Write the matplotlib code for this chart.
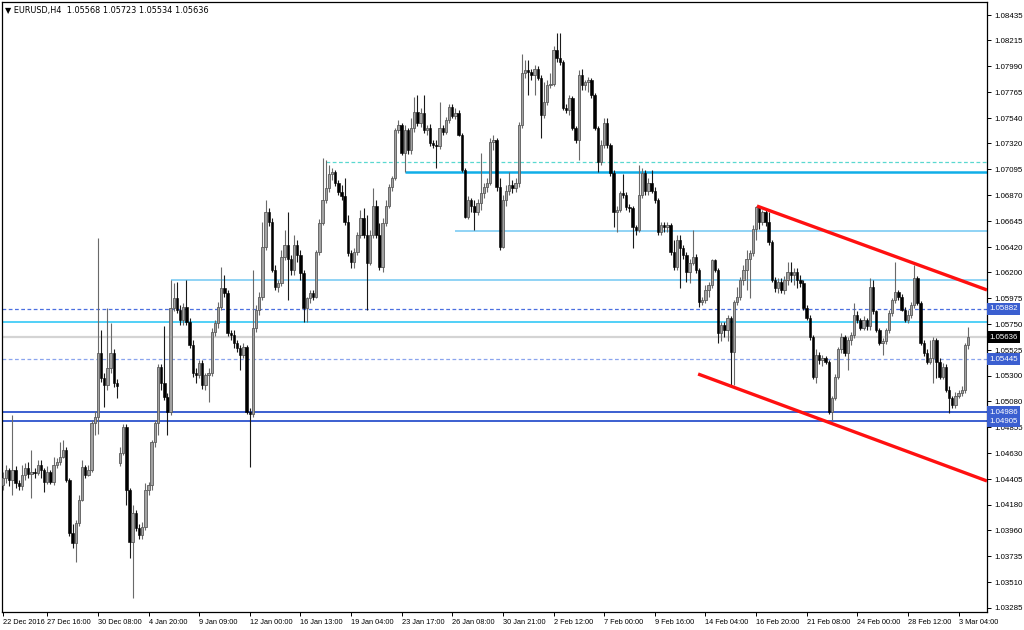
import matplotlib
matplotlib.use('Agg')
import matplotlib.pyplot as plt

plt.rcParams['font.family'] = ['Liberation Sans', 'DejaVu Sans']

# EURUSD H4 candles, prices in pips (x 1e-4)
opens = [10435, 10441, 10448, 10440, 10448, 10437, 10434, 10444, 10450, 10445,
         10447, 10446, 10453, 10448, 10438, 10447, 10438, 10453, 10455, 10460,
         10466, 10440, 10394, 10385, 10402, 10422, 10451, 10444, 10448, 10489,
         10494, 10550, 10528, 10522, 10537, 10550, 10524, 10454, 10463, 10486,
         10431, 10386, 10411, 10398, 10392, 10399, 10431, 10435, 10473, 10489,
         10538, 10524, 10512, 10499, 10589, 10598, 10587, 10579, 10590, 10577,
         10557, 10533, 10531, 10541, 10522, 10531, 10533, 10568, 10576, 10590,
         10606, 10602, 10567, 10566, 10559, 10554, 10548, 10555, 10499, 10497,
         10572, 10587, 10599, 10642, 10672, 10664, 10622, 10607, 10611, 10633,
         10644, 10632, 10622, 10644, 10635, 10619, 10589, 10598, 10602, 10599,
         10638, 10663, 10683, 10693, 10705, 10707, 10698, 10690, 10686, 10664,
         10637, 10629, 10638, 10652, 10667, 10652, 10628, 10652, 10678, 10652,
         10625, 10663, 10678, 10694, 10702, 10744, 10748, 10724, 10744, 10726,
         10745, 10759, 10750, 10758, 10744, 10745, 10732, 10731, 10730, 10745,
         10742, 10752, 10764, 10756, 10758, 10739, 10709, 10668, 10683, 10678,
         10672, 10680, 10689, 10694, 10698, 10733, 10735, 10694, 10642, 10683,
         10691, 10696, 10693, 10698, 10748, 10793, 10796, 10794, 10791, 10797,
         10789, 10757, 10768, 10783, 10784, 10813, 10806, 10803, 10763, 10761,
         10771, 10745, 10735, 10791, 10783, 10785, 10787, 10774, 10745, 10716,
         10731, 10750, 10731, 10706, 10672, 10674, 10689, 10687, 10677, 10676,
         10659, 10657, 10687, 10706, 10691, 10698, 10691, 10683, 10655, 10661,
         10659, 10661, 10638, 10625, 10648, 10641, 10635, 10620, 10628, 10633,
         10622, 10594, 10596, 10605, 10609, 10631, 10622, 10567, 10574, 10570,
         10580, 10551, 10594, 10599, 10613, 10622, 10632, 10637, 10658, 10677,
         10664, 10672, 10664, 10646, 10613, 10606, 10612, 10605, 10613, 10620,
         10618, 10620, 10613, 10611, 10589, 10580, 10564, 10529, 10548, 10544,
         10546, 10542, 10499, 10511, 10529, 10553, 10564, 10550, 10561, 10566,
         10583, 10579, 10572, 10579, 10573, 10607, 10586, 10570, 10559, 10560,
         10570, 10585, 10596, 10603, 10599, 10587, 10579, 10583, 10592, 10615,
         10593, 10559, 10550, 10542, 10546, 10561, 10542, 10529, 10538, 10518,
         10511, 10505, 10513, 10515, 10518, 10556.8]
highs = [10447, 10453, 10450, 10496, 10452, 10440, 10453, 10454, 10455, 10466,
         10450, 10457, 10457, 10450, 10452, 10448, 10460, 10459, 10473, 10474,
         10468, 10441, 10401, 10405, 10427, 10457, 10453, 10453, 10492, 10500,
         10650, 10570, 10533, 10589, 10576, 10553, 10527, 10468, 10488, 10488,
         10433, 10418, 10414, 10401, 10403, 10437, 10438, 10474, 10492, 10540,
         10540, 10573, 10515, 10613, 10611, 10612, 10592, 10593, 10613, 10580,
         10561, 10537, 10544, 10544, 10533, 10537, 10572, 10579, 10594, 10625,
         10618, 10605, 10570, 10570, 10561, 10557, 10559, 10557, 10502, 10622,
         10592, 10603, 10664, 10683, 10676, 10667, 10626, 10613, 10639, 10657,
         10672, 10635, 10652, 10648, 10639, 10622, 10599, 10605, 10605, 10639,
         10666, 10719, 10718, 10713, 10711, 10709, 10700, 10696, 10702, 10670,
         10639, 10641, 10655, 10674, 10676, 10670, 10657, 10693, 10683, 10663,
         10667, 10683, 10697, 10704, 10745, 10752, 10750, 10748, 10745, 10754,
         10772, 10774, 10763, 10774, 10748, 10749, 10735, 10735, 10768, 10748,
         10755, 10766, 10766, 10763, 10761, 10741, 10711, 10686, 10685, 10683,
         10684, 10724, 10698, 10702, 10737, 10739, 10737, 10702, 10687, 10696,
         10707, 10700, 10702, 10751, 10810, 10804, 10804, 10797, 10800, 10799,
         10791, 10785, 10787, 10793, 10817, 10828, 10828, 10804, 10766, 10774,
         10773, 10747, 10796, 10797, 10787, 10790, 10789, 10776, 10747, 10735,
         10754, 10754, 10732, 10709, 10678, 10691, 10705, 10690, 10679, 10678,
         10661, 10713, 10711, 10709, 10702, 10709, 10694, 10685, 10664, 10664,
         10664, 10663, 10648, 10652, 10652, 10644, 10638, 10632, 10657, 10636,
         10624, 10599, 10609, 10612, 10632, 10632, 10624, 10577, 10577, 10583,
         10582, 10596, 10607, 10616, 10626, 10639, 10639, 10661, 10678, 10678,
         10674, 10674, 10672, 10648, 10616, 10615, 10615, 10617, 10629, 10629,
         10624, 10624, 10618, 10613, 10592, 10583, 10566, 10553, 10551, 10548,
         10547, 10544, 10513, 10532, 10555, 10567, 10566, 10564, 10568, 10593,
         10586, 10580, 10582, 10580, 10615, 10613, 10587, 10572, 10563, 10572,
         10587, 10598, 10629, 10605, 10601, 10590, 10587, 10594, 10626, 10617,
         10595, 10561, 10553, 10561, 10564, 10563, 10546, 10541, 10540, 10521,
         10513, 10516, 10518, 10521, 10559, 10572.3]
lows = [10431, 10437, 10434, 10427, 10433, 10431, 10431, 10440, 10441, 10424,
        10441, 10444, 10441, 10429, 10436, 10436, 10435, 10450, 10453, 10459,
        10438, 10391, 10381, 10368, 10400, 10421, 10441, 10443, 10447, 10479,
        10480, 10525, 10503, 10518, 10533, 10520, 10511, 10452, 10461, 10418,
        10372, 10337, 10395, 10388, 10388, 10396, 10427, 10431, 10468, 10479,
        10518, 10509, 10479, 10496, 10586, 10585, 10574, 10574, 10574, 10554,
        10529, 10524, 10528, 10519, 10518, 10507, 10530, 10565, 10572, 10587,
        10599, 10565, 10561, 10554, 10551, 10535, 10546, 10497, 10451, 10494,
        10568, 10583, 10596, 10639, 10660, 10620, 10605, 10603, 10608, 10631,
        10596, 10618, 10618, 10629, 10613, 10577, 10577, 10593, 10596, 10598,
        10635, 10661, 10680, 10690, 10700, 10695, 10687, 10683, 10661, 10634,
        10624, 10624, 10635, 10650, 10650, 10587, 10626, 10650, 10650, 10622,
        10620, 10660, 10676, 10691, 10700, 10741, 10722, 10707, 10723, 10723,
        10742, 10747, 10746, 10741, 10739, 10730, 10728, 10711, 10727, 10739,
        10740, 10750, 10754, 10753, 10738, 10707, 10667, 10666, 10672, 10657,
        10670, 10674, 10685, 10690, 10696, 10726, 10691, 10639, 10641, 10678,
        10687, 10689, 10690, 10694, 10745, 10789, 10774, 10787, 10774, 10787,
        10737, 10754, 10765, 10780, 10782, 10803, 10800, 10761, 10758, 10757,
        10744, 10732, 10718, 10778, 10778, 10777, 10771, 10744, 10707, 10713,
        10728, 10728, 10704, 10659, 10655, 10672, 10685, 10674, 10672, 10641,
        10652, 10655, 10685, 10687, 10687, 10689, 10680, 10652, 10652, 10655,
        10655, 10635, 10622, 10622, 10606, 10632, 10612, 10611, 10626, 10619,
        10590, 10592, 10593, 10599, 10606, 10620, 10559, 10560, 10564, 10560,
        10520, 10522, 10592, 10596, 10609, 10605, 10598, 10634, 10648, 10658,
        10661, 10660, 10644, 10612, 10603, 10602, 10602, 10601, 10609, 10612,
        10609, 10606, 10607, 10587, 10579, 10561, 10527, 10524, 10540, 10539,
        10540, 10497, 10492, 10509, 10527, 10550, 10547, 10535, 10557, 10563,
        10576, 10570, 10570, 10570, 10570, 10584, 10568, 10557, 10548, 10558,
        10567, 10582, 10593, 10596, 10586, 10577, 10576, 10580, 10589, 10592,
        10557, 10547, 10540, 10540, 10524, 10528, 10527, 10527, 10516, 10498,
        10502, 10502, 10511, 10513, 10515, 10553.4]
closes = [10441, 10448, 10440, 10448, 10437, 10434, 10444, 10450, 10445, 10447,
          10446, 10453, 10448, 10438, 10447, 10438, 10453, 10455, 10460, 10466,
          10440, 10394, 10385, 10402, 10422, 10451, 10444, 10448, 10489, 10494,
          10550, 10528, 10522, 10537, 10550, 10524, 10521, 10463, 10486, 10431,
          10386, 10411, 10398, 10392, 10399, 10431, 10435, 10473, 10489, 10538,
          10524, 10512, 10499, 10589, 10598, 10587, 10579, 10590, 10577, 10557,
          10533, 10531, 10541, 10522, 10531, 10533, 10568, 10576, 10590, 10606,
          10602, 10567, 10566, 10559, 10554, 10548, 10555, 10499, 10497, 10572,
          10587, 10599, 10642, 10672, 10664, 10622, 10607, 10611, 10633, 10644,
          10632, 10622, 10644, 10635, 10619, 10589, 10598, 10602, 10599, 10638,
          10663, 10683, 10693, 10705, 10707, 10698, 10690, 10686, 10664, 10637,
          10629, 10638, 10652, 10667, 10652, 10628, 10652, 10678, 10652, 10625,
          10663, 10678, 10694, 10702, 10744, 10748, 10724, 10744, 10726, 10745,
          10759, 10750, 10758, 10744, 10745, 10732, 10731, 10730, 10745, 10742,
          10752, 10764, 10756, 10758, 10739, 10709, 10668, 10683, 10678, 10672,
          10680, 10689, 10694, 10698, 10733, 10735, 10694, 10642, 10683, 10691,
          10696, 10693, 10698, 10748, 10793, 10796, 10794, 10791, 10797, 10789,
          10757, 10768, 10783, 10784, 10813, 10806, 10803, 10763, 10761, 10771,
          10745, 10735, 10791, 10783, 10785, 10787, 10774, 10745, 10716, 10731,
          10750, 10731, 10706, 10672, 10674, 10689, 10687, 10677, 10676, 10659,
          10657, 10687, 10706, 10691, 10698, 10691, 10683, 10655, 10661, 10659,
          10661, 10638, 10625, 10648, 10641, 10635, 10620, 10628, 10633, 10622,
          10594, 10596, 10605, 10609, 10631, 10622, 10567, 10574, 10570, 10580,
          10551, 10594, 10599, 10613, 10622, 10632, 10637, 10658, 10677, 10664,
          10672, 10664, 10646, 10613, 10606, 10612, 10605, 10613, 10620, 10618,
          10620, 10613, 10611, 10589, 10580, 10564, 10529, 10548, 10544, 10546,
          10542, 10499, 10511, 10529, 10553, 10564, 10550, 10561, 10566, 10583,
          10579, 10572, 10579, 10573, 10607, 10586, 10570, 10559, 10560, 10570,
          10585, 10596, 10603, 10599, 10587, 10579, 10583, 10592, 10615, 10593,
          10559, 10550, 10542, 10546, 10561, 10542, 10529, 10538, 10518, 10511,
          10505, 10513, 10515, 10518, 10557, 10563.6]

# x axis labels (bar index -> text)
xtick_bars = [0, 14, 30, 46, 62, 78, 94, 110, 126, 142, 158, 174, 190, 206,
              222, 238, 254, 270, 286, 302]
xtick_labels = ["22 Dec 2016", "27 Dec 16:00", "30 Dec 08:00", "4 Jan 20:00",
                "9 Jan 09:00", "12 Jan 00:00", "16 Jan 13:00", "19 Jan 04:00",
                "23 Jan 17:00", "26 Jan 08:00", "30 Jan 21:00", "2 Feb 12:00",
                "7 Feb 00:00", "9 Feb 16:00", "14 Feb 04:00", "16 Feb 20:00",
                "21 Feb 08:00", "24 Feb 00:00", "28 Feb 12:00", "3 Mar 04:00"]
yticks = [1.08435, 1.08215, 1.07990, 1.07765, 1.07540, 1.07320, 1.07095,
          1.06870, 1.06645, 1.06420, 1.06200, 1.05975, 1.05750, 1.05525,
          1.05300, 1.05080, 1.04855, 1.04630, 1.04405, 1.04180, 1.03960,
          1.03735, 1.03510, 1.03285]

# horizontal levels: (price, start bar)
level_blue_dash = [1.05882, 1.05445]
level_blue_solid = [1.04986, 1.04905]
level_cyan_full = 1.05770
level_light = [(1.06134, 53), (1.06559, 143)]
level_cyan_thick = (1.07071, 127)
level_cyan_dash = (1.07158, 102)
# red channel lines: (bar, price) pairs
upper_trend = [(238.3, 1.06776), (311.0, 1.06047)]
lower_trend = [(219.7, 1.05317), (311.0, 1.04388)]

W, H = 1024, 630
fig = plt.figure(figsize=(W / 100, H / 100), dpi=100)
ax = fig.add_axes([2 / W, (H - 612) / H, 985 / W, 610 / H])
xmax = 311.0
ax.set_xlim(-0.3, xmax)
ax.set_ylim(1.03250, 1.08548)

# levels
last = closes[-1] / 10000
ax.axhline(last, color='#d4d4d4', lw=1.6, zorder=1)
for p in level_blue_dash:
    ax.axhline(p, color='#4a6fe0' if p > 1.0555 else '#8aa4ee', lw=0.9,
               dashes=(3, 2), zorder=1)
for p in level_blue_solid:
    ax.axhline(p, color='#3b5fd0', lw=1.4, zorder=1)
ax.axhline(level_cyan_full, color='#22c4f5', lw=1.1, zorder=1)
for p, b in level_light:
    ax.hlines(p, b, xmax, color='#8fd3f5', lw=1.4, zorder=1)
ax.hlines(level_cyan_thick[0], level_cyan_thick[1], xmax, color='#10aee8',
          lw=1.8, zorder=1)
ax.hlines(level_cyan_dash[0], level_cyan_dash[1], xmax, color='#5ad8d0',
          lw=0.9, linestyles=(0, (3, 2)), zorder=1)

# candles
for i in range(len(closes)):
    o = opens[i] / 10000
    h = highs[i] / 10000
    l = lows[i] / 10000
    c = closes[i] / 10000
    up = c >= o
    ax.vlines(i, l, h, color='#6a6a6a' if up else '#1a1a1a', lw=0.8, zorder=3)
    body = max(abs(c - o), 0.00003)
    if up:
        ax.bar(i, body, bottom=min(o, c), width=0.75, color='#a2a2a2',
               edgecolor='#5a5a5a', linewidth=0.6, zorder=4)
    else:
        ax.bar(i, body, bottom=min(o, c), width=0.75, color='black',
               edgecolor='black', linewidth=0.4, zorder=4)

# red channel
for ln in (upper_trend, lower_trend):
    ax.plot([ln[0][0], ln[1][0]], [ln[0][1], ln[1][1]], color='#ff1010',
            lw=2.4, solid_capstyle='butt', zorder=5, clip_on=True)

# axes styling
for s in ax.spines.values():
    s.set_color('black')
    s.set_linewidth(0.9)
ax.yaxis.tick_right()
ax.set_yticks(yticks)
ax.set_yticklabels(['%.5f' % v for v in yticks])
ax.tick_params(axis='y', direction='out', length=3, width=0.7, pad=2,
               labelsize=5.7, colors='black')
ax.set_xticks(xtick_bars)
ax.set_xticklabels(xtick_labels)
ax.tick_params(axis='x', direction='out', length=3, width=0.7, pad=2,
               labelsize=5.3)
for lb in ax.get_xticklabels():
    lb.set_ha('left')

# right side price boxes
ytr = ax.get_yaxis_transform()
boxes = [(1.05882, '#3b5fd0'), (1.05445, '#3b5fd0'), (1.04986, '#3b5fd0'),
         (1.04905, '#3b5fd0'), (last, 'black')]
for p, col in boxes:
    ax.text(1.0025, p, '%.5f' % p, transform=ytr, ha='left', va='center',
            fontsize=5.7, color='white', zorder=10, clip_on=False,
            bbox=dict(boxstyle='square,pad=0.3', fc=col, ec='none'))

# header
ax.text(0.003, 0.993, '\u25bc EURUSD,H4  %.5f %.5f %.5f %.5f'
        % (opens[-1] / 10000, highs[-1] / 10000, lows[-1] / 10000, last),
        transform=ax.transAxes, ha='left', va='top', fontsize=5.9,
        color='black', zorder=10, family=['DejaVu Sans'])

fig.savefig('out.png', dpi=100)
